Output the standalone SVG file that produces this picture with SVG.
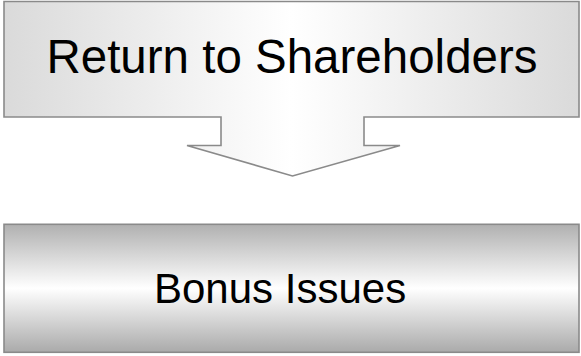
<svg xmlns="http://www.w3.org/2000/svg" width="581" height="356" viewBox="0 0 581 356">
<defs>
<linearGradient id="gTop" x1="0" y1="0" x2="1" y2="0">
<stop offset="0" stop-color="#dadada"/>
<stop offset="0.5" stop-color="#ffffff"/>
<stop offset="1" stop-color="#dadada"/>
</linearGradient>
<linearGradient id="gBot" x1="0" y1="0" x2="0" y2="1">
<stop offset="0" stop-color="#b0b0b0"/>
<stop offset="0.5" stop-color="#ffffff"/>
<stop offset="1" stop-color="#aaaaaa"/>
</linearGradient>
</defs>
<style>
.shape{stroke:#8a8a8a;stroke-width:1.6;stroke-linejoin:miter}
.lbl{font-family:"Liberation Sans",Arial,sans-serif;fill:#000}
</style>
<g id="connectors"></g>
<g id="node-return">
<path class="shape" fill="url(#gTop)" d="M4,1.5 H579 V117 H364 V145.5 H400 L292.5,176 L187,145.5 H221 V117 H4 Z"/>
<text class="lbl" x="292" y="72.5" font-size="47.5" text-anchor="middle">Return to Shareholders</text>
</g>
<g id="node-bonus">
<rect class="shape" fill="url(#gBot)" x="4" y="224.3" width="575" height="128"/>
<text class="lbl" x="154" y="303.3" font-size="42">Bonus Issues</text>
</g>
</svg>
